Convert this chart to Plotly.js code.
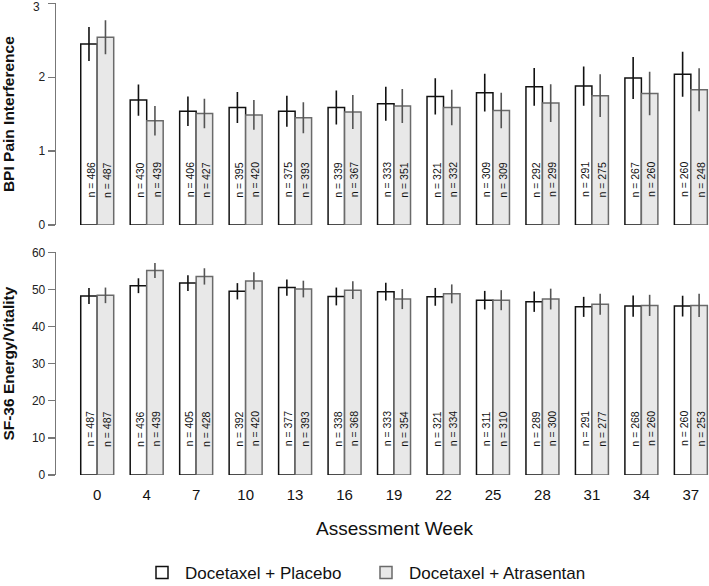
<!DOCTYPE html>
<html>
<head>
<meta charset="utf-8">
<script src="https://cdn.plot.ly/plotly-3.0.1.min.js"></script>
<style>html,body{margin:0;padding:0;background:#fff;} #plot{width:709px;height:586px;}</style>
</head>
<body>
<div id="plot"></div>
<script>
// ---- data ----
const weeks = [0, 4, 7, 10, 13, 16, 19, 22, 25, 28, 31, 34, 37];
const seriesNames = ["Docetaxel + Placebo", "Docetaxel + Atrasentan"];

const bpiPlacebo    = [2.45, 1.69, 1.54, 1.59, 1.54, 1.59, 1.64, 1.74, 1.79, 1.87, 1.88, 1.99, 2.04];
const bpiPlaceboErr = [0.23, 0.21, 0.20, 0.21, 0.21, 0.23, 0.23, 0.245, 0.255, 0.255, 0.265, 0.285, 0.305];
const bpiAtras      = [2.54, 1.41, 1.51, 1.49, 1.45, 1.53, 1.61, 1.59, 1.55, 1.65, 1.75, 1.78, 1.83];
const bpiAtrasErr   = [0.23, 0.20, 0.20, 0.20, 0.21, 0.23, 0.23, 0.24, 0.24, 0.255, 0.29, 0.295, 0.29];
const bpiNPlacebo   = [486, 430, 406, 395, 375, 339, 333, 321, 309, 292, 291, 267, 260];
const bpiNAtras     = [487, 439, 427, 420, 393, 367, 351, 332, 309, 299, 275, 260, 248];
const bpiTicks      = [0, 1, 2, 3];

const sfPlacebo     = [48.2, 51.0, 51.7, 49.5, 50.5, 48.1, 49.4, 48.0, 47.1, 46.7, 45.3, 45.5, 45.5];
const sfPlaceboErr  = [2.15, 2.0, 2.1, 2.2, 2.2, 2.4, 2.4, 2.4, 2.5, 2.75, 2.7, 2.85, 2.8];
const sfAtras       = [48.4, 55.1, 53.5, 52.3, 50.1, 49.8, 47.4, 48.8, 47.1, 47.4, 46.0, 45.7, 45.7];
const sfAtrasErr    = [2.1, 2.0, 2.2, 2.35, 2.25, 2.4, 2.7, 2.55, 2.7, 2.8, 2.85, 2.85, 3.1];
const sfNPlacebo    = [487, 436, 405, 392, 377, 338, 333, 321, 311, 289, 291, 268, 260];
const sfNAtras      = [487, 439, 428, 420, 393, 368, 354, 334, 310, 300, 277, 260, 253];

// ---- positions on a numeric axis (R barplot style: space c(0,1)) ----
const xPlacebo = weeks.map((w, i) => 1.5 + 3 * i);
const xAtras   = weeks.map((w, i) => 2.5 + 3 * i);
const xCenter  = weeks.map((w, i) => 2 + 3 * i);

const FONT = "Liberation Sans, Arial, Helvetica, sans-serif";
const fillP = "#ffffff", fillA = "#e8e8e8";
const lineP = "#111111", lineA = "#6a6a6a";

function barTrace(x, y, err, fill, line, errColor, name, xa, ya, showLegend) {
  return {
    type: "bar", x: x, y: y, width: 1, name: name,
    xaxis: xa, yaxis: ya, showlegend: showLegend, legendgroup: name,
    marker: {color: fill, line: {color: line, width: 1.5}},
    error_y: {type: "data", array: err, visible: true, width: 0, thickness: 1.6, color: errColor},
    hoverinfo: "x+y"
  };
}

const data = [
  barTrace(xPlacebo, bpiPlacebo, bpiPlaceboErr, fillP, lineP, "#111", seriesNames[0], "x", "y", true),
  barTrace(xAtras, bpiAtras, bpiAtrasErr, fillA, lineA, "#555", seriesNames[1], "x", "y", true),
  barTrace(xPlacebo, sfPlacebo, sfPlaceboErr, fillP, lineP, "#111", seriesNames[0], "x2", "y2", false),
  barTrace(xAtras, sfAtras, sfAtrasErr, fillA, lineA, "#555", seriesNames[1], "x2", "y2", false)
];

const annotations = [];
function addN(xs, ns, yref, yval) {
  xs.forEach((x, i) => annotations.push({
    x: x, y: yval, xref: yref === "y" ? "x" : "x2", yref: yref,
    text: "n = " + ns[i], showarrow: false, textangle: -90, xshift: 1.5,
    font: {family: FONT, size: 10.5, color: "#111"}
  }));
}
addN(xPlacebo, bpiNPlacebo, "y", 0.61);
addN(xAtras, bpiNAtras, "y", 0.61);
addN(xPlacebo, sfNPlacebo, "y2", 12.4);
addN(xAtras, sfNAtras, "y2", 12.4);
// top tick label of the upper panel sits at the very edge: drawn as an annotation nudged down
annotations.push({
  x: 0, y: bpiTicks[bpiTicks.length - 1], xref: "paper", yref: "y",
  xanchor: "right", yanchor: "middle", xshift: -14.5, yshift: -3.5,
  text: String(bpiTicks[bpiTicks.length - 1]), showarrow: false,
  font: {family: FONT, size: 12, color: "#222"}
});
annotations.push({
  x: 0.519, y: (586 - 528) / 586, xref: "paper", yref: "paper",
  xanchor: "center", yanchor: "middle",
  text: "Assessment Week", showarrow: false,
  font: {family: FONT, size: 19, color: "#111"}
});

const yBase = {
  showline: true, linecolor: "#777", linewidth: 1.3,
  ticks: "outside", ticklen: 7, tickcolor: "#777", tickwidth: 1.3,
  showgrid: false, zeroline: false, automargin: false,
  tickfont: {family: FONT, size: 12, color: "#222"},
  fixedrange: true
};

const layout = {
  width: 709, height: 586,
  margin: {l: 56, r: 0, t: 0, b: 0, autoexpand: false},
  paper_bgcolor: "#fff", plot_bgcolor: "rgba(0,0,0,0)",
  font: {family: FONT, color: "#111"},
  barmode: "overlay",
  showlegend: true,
  legend: {
    orientation: "h",
    xref: "container", yref: "container",
    x: 139 / 709, xanchor: "left",
    y: (586 - 573) / 586, yanchor: "middle",
    itemwidth: 36,
    entrywidth: 173, entrywidthmode: "pixels",
    font: {family: FONT, size: 17, color: "#111"},
    bgcolor: "rgba(0,0,0,0)", traceorder: "normal"
  },
  xaxis: {
    domain: [0, 1], range: [-0.5, 39.1], anchor: "y",
    showgrid: false, zeroline: false, showline: false, showticklabels: false, ticks: "",
    fixedrange: true
  },
  xaxis2: {
    domain: [0, 1], range: [-0.5, 39.1], anchor: "y2",
    showgrid: false, zeroline: false, showline: false,
    tickmode: "array", tickvals: xCenter, ticktext: weeks.map(String),
    ticks: "outside", ticklen: 6, tickcolor: "rgba(0,0,0,0)",
    tickfont: {family: FONT, size: 15, color: "#111"}, automargin: false,
    fixedrange: true
  },
  yaxis: Object.assign({}, yBase, {
    domain: [(586 - 225) / 586, (586 - 3.3) / 586], range: [0, 3], anchor: "x",
    tickmode: "array", tickvals: bpiTicks,
    ticktext: bpiTicks.map((t, i) => i === bpiTicks.length - 1 ? "" : String(t)),
    title: {text: "<b>BPI Pain Interference</b>", standoff: 22, font: {family: FONT, size: 15.5, color: "#111"}}
  }),
  yaxis2: Object.assign({}, yBase, {
    domain: [(586 - 475) / 586, (586 - 252.3) / 586], range: [0, 60], dtick: 10, anchor: "x2",
    title: {text: "<b>SF-36 Energy/Vitality</b>", standoff: 16, font: {family: FONT, size: 15.5, color: "#111"}}
  }),
  annotations: annotations
};

Plotly.newPlot("plot", data, layout, {displayModeBar: false, staticPlot: true});
</script>
</body>
</html>
